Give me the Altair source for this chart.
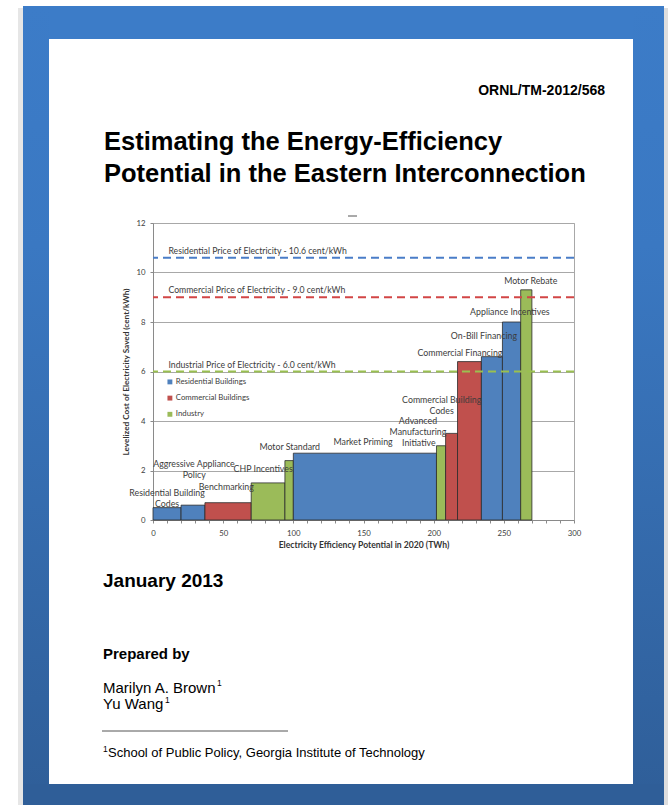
import altair as alt
import numpy as np
import pandas as pd

# ---- supply-curve data: one rectangle per policy ----
programs = [
    "Residential Building Codes", "Aggressive Appliance Policy", "Benchmarking",
    "CHP Incentives", "Motor Standard", "Market Priming",
    "Advanced Manufacturing Initiative", "Commercial Building Codes",
    "Commercial Financing", "On-Bill Financing", "Appliance Incentives", "Motor Rebate",
]
sectors = [
    "Residential Buildings", "Residential Buildings", "Commercial Buildings",
    "Industry", "Industry", "Residential Buildings",
    "Industry", "Commercial Buildings",
    "Commercial Buildings", "Residential Buildings", "Residential Buildings", "Industry",
]
savings_twh = [20, 17, 33, 24, 6, 102, 6.5, 8.5, 17, 15, 13, 8]
cost_cents = [0.5, 0.6, 0.7, 1.5, 2.4, 2.7, 3.0, 3.5, 6.4, 6.6, 8.0, 9.3]

sector_names = ["Residential Buildings", "Commercial Buildings", "Industry"]
sector_colors = ["#4f81bd", "#c0504d", "#9bbb59"]

# ---- retail electricity prices ----
price_names = ["Residential", "Commercial", "Industrial"]
price_values = [10.6, 9.0, 6.0]
price_labels = [
    "Residential Price of Electricity - 10.6 cent/kWh",
    "Commercial Price of Electricity - 9.0 cent/kWh",
    "Industrial Price of Electricity - 6.0 cent/kWh",
]
price_colors = ["#4a7dc8", "#d24646", "#9ac050"]

# ---- policy labels (one row per text line) ----
label_lines = [
    "Residential Building", "Codes", "Aggressive Appliance", "Policy", "Benchmarking",
    "CHP Incentives", "Motor Standard", "Market Priming", "Advanced", "Manufacturing",
    "Initiative", "Commercial Building", "Codes", "Commercial Financing",
    "On-Bill Financing", "Appliance Incentives", "Motor Rebate",
]
label_x = [10.0, 10.0, 29.2, 29.4, 52.2, 78.5, 97.4, 149.7, 188.8, 188.8, 189.4,
           205.7, 205.7, 218.7, 235.8, 254.3, 269.2]
label_y = [0.97, 0.52, 2.15, 1.69, 1.21, 1.94, 2.82, 3.02, 3.87, 3.43, 2.98,
           4.72, 4.27, 6.62, 7.30, 8.27, 9.52]

x_ticks = list(range(0, 301, 10))
y_ticks = [0, 2, 4, 6, 8, 10, 12]

end = np.cumsum(savings_twh)
bars = pd.DataFrame({
    "program": programs,
    "sector": sectors,
    "start": end - np.array(savings_twh),
    "end": end,
    "cost": cost_cents,
})
prices = pd.DataFrame({"name": price_names, "price": price_values, "label": price_labels})
labels = pd.DataFrame({"text": label_lines, "x": label_x, "y": label_y})

# plot area geometry on the page
X0, Y0 = 153, 223
W, H = 421, 297
PAGE_W, PAGE_H = 668, 805

FONT = "Lato"
TXT = "#3c3c3c"
PAGE_FONT = "Liberation Sans"

xs = alt.Scale(domain=[0, 300], nice=False, zero=True)
ys = alt.Scale(domain=[0, 12], nice=False)

x_axis = alt.Axis(
    values=x_ticks, labelExpr="datum.value % 50 === 0 ? datum.label : ''",
    labelOverlap=False, labelFlush=False, grid=False, tickSize=3, labelPadding=6,
    labelFontSize=7.8, labelFont=FONT, labelColor="#404040", domainColor="#8a8a8a",
    tickColor="#8a8a8a",
    title="Electricity Efficiency Potential in 2020 (TWh)", titleFont=FONT,
    titleFontSize=8.6, titleFontWeight="bold", titleColor="#333333", titlePadding=4,
)
y_axis = alt.Axis(
    values=y_ticks, labelOverlap=False, labelFlush=False, grid=True, gridColor="#a8a8a8",
    tickSize=3, labelPadding=5, labelFontSize=7.8, labelFont=FONT, labelColor="#404040",
    domainColor="#8a8a8a", tickColor="#8a8a8a",
    title="Levelized Cost of Electricity Saved (cent/kWh)", titleFont=FONT,
    titleFontSize=8.2, titleFontWeight="bold", titleColor="#333333", titlePadding=5,
)

bar_layer = alt.Chart(bars).mark_rect(stroke="#2b2b2b", strokeWidth=0.8).encode(
    x=alt.X("start:Q", scale=xs, axis=x_axis),
    x2="end:Q",
    y=alt.Y("cost:Q", scale=ys, axis=y_axis),
    y2=alt.Y2(datum=0),
    color=alt.Color(
        "sector:N",
        scale=alt.Scale(domain=sector_names, range=sector_colors),
        legend=alt.Legend(
            title=None, orient="none", legendX=13, legendY=155,
            symbolType="square", symbolSize=24, symbolStrokeWidth=0,
            labelFont=FONT, labelFontSize=7.8, labelColor=TXT,
            rowPadding=7.2, labelOffset=2,
        ),
    ),
)

price_lines = alt.Chart(prices).mark_rule(strokeWidth=2, strokeDash=[8, 5]).encode(
    y=alt.Y("price:Q", scale=ys, axis=y_axis),
    stroke=alt.Stroke("name:N", scale=alt.Scale(domain=price_names, range=price_colors), legend=None),
)

price_text = alt.Chart(prices).transform_calculate(x0="11").mark_text(
    align="left", baseline="alphabetic", dy=-4, font=FONT, fontSize=8.7, color=TXT
).encode(
    x=alt.X("x0:Q", scale=xs, axis=x_axis),
    y=alt.Y("price:Q", scale=ys, axis=y_axis),
    text="label:N",
)

label_text = alt.Chart(labels).mark_text(
    align="center", baseline="alphabetic", font=FONT, fontSize=8.8, color=TXT
).encode(
    x=alt.X("x:Q", scale=xs, axis=x_axis),
    y=alt.Y("y:Q", scale=ys, axis=y_axis),
    text="text:N",
)

one = pd.DataFrame({"k": [0]})


def band(x1, y1, x2, y2, fill):
    return alt.Chart(one).mark_rect(color=fill).encode(
        x=alt.value(x1 - X0), x2=alt.value(x2 - X0),
        y=alt.value(y1 - Y0), y2=alt.value(y2 - Y0),
    )


def page_text(txt, px, py, size, weight="normal", align="left", color="#000000"):
    return alt.Chart(one).mark_text(
        text=txt, font=PAGE_FONT, fontSize=size, fontWeight=weight,
        align=align, baseline="alphabetic", color=color,
    ).encode(x=alt.value(px - X0), y=alt.value(py - Y0))


TOP_BLUE = "#3c7cc8"
BOTTOM_BLUE = "#2f5e98"
side_gradient = alt.LinearGradient(
    gradient="linear", x1=0, x2=0, y1=0, y2=1,
    stops=[alt.GradientStop(color=TOP_BLUE, offset=0),
           alt.GradientStop(color="#3a78c2", offset=0.3),
           alt.GradientStop(color=BOTTOM_BLUE, offset=1)],
)

frame = [
    band(18, 8, 23, PAGE_H, "#e6e6e6"),
    band(664, 8, PAGE_W, PAGE_H, "#dedede"),
    band(23, 6, 664, 39, TOP_BLUE),
    band(23, 6, 49, PAGE_H, side_gradient),
    band(633, 6, 664, PAGE_H, side_gradient),
    band(23, 784, 664, PAGE_H, BOTTOM_BLUE),
]

stray_dash = alt.Chart(one).mark_rule(color="#555555", strokeWidth=1).encode(
    x=alt.value(348 - X0), x2=alt.value(357 - X0), y=alt.value(216 - Y0)
)

cover_text = [
    page_text("ORNL/TM-2012/568", 605, 95, 14, "bold", "right"),
    page_text("Estimating the Energy-Efficiency", 104, 150, 25.5, "bold"),
    page_text("Potential in the Eastern Interconnection", 104, 182, 25.5, "bold"),
    page_text("January 2013", 103, 587, 19, "bold"),
    page_text("Prepared by", 103, 659, 15, "bold"),
    page_text("Marilyn A. Brown", 103, 693, 15),
    page_text("1", 217, 686, 8.5),
    page_text("Yu Wang", 103, 709, 15),
    page_text("1", 165, 703, 8.5),
    page_text("1", 103, 752, 8.5),
    page_text("School of Public Policy, Georgia Institute of Technology", 108, 757, 13),
]

sep_line = alt.Chart(one).mark_rule(color="#555555", strokeWidth=1).encode(
    x=alt.value(102 - X0), x2=alt.value(288 - X0), y=alt.value(731 - Y0)
)

chart = alt.layer(
    *frame, bar_layer, price_lines, price_text, label_text, stray_dash,
    *cover_text, sep_line,
).resolve_scale(color="independent").properties(
    width=W, height=H,
    autosize=alt.AutoSizeParams(type="none"),
    padding={"left": X0, "top": Y0, "right": PAGE_W - X0 - W, "bottom": PAGE_H - Y0 - H},
    background="#ffffff",
).configure_view(stroke="#a8a8a8", strokeWidth=1)

chart.save("out.html", embed_options={"renderer": "svg", "actions": False})
